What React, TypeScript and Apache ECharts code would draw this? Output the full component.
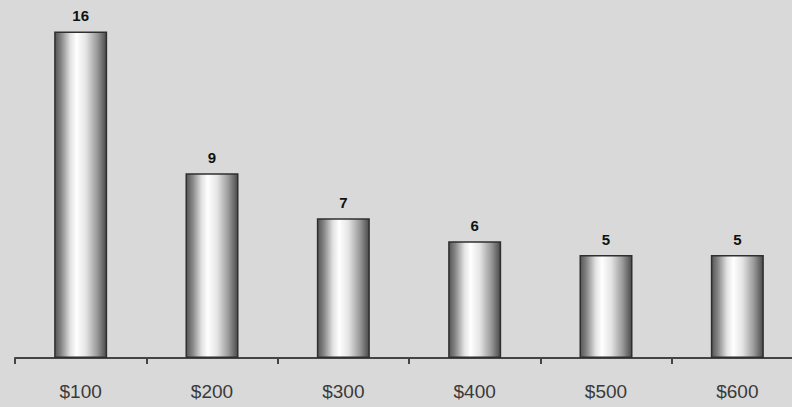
import React, { useEffect, useRef } from "react";
import * as echarts from "echarts";

const categories = ["$100", "$200", "$300", "$400", "$500", "$600"];
const values = [16, 9.05, 6.85, 5.72, 5.04, 5.04];

export default function App() {
  const ref = useRef<HTMLDivElement>(null);
  useEffect(() => {
    document.body.style.margin = "0";
    const chart = echarts.init(ref.current!, null, { renderer: "svg" });
    const barGradient = new echarts.graphic.LinearGradient(0, 0, 1, 0, [
      { offset: 0, color: "#555555" },
      { offset: 0.12, color: "#858585" },
      { offset: 0.3, color: "#e2e2e2" },
      { offset: 0.42, color: "#ffffff" },
      { offset: 0.6, color: "#e4e4e4" },
      { offset: 0.82, color: "#9a9a9a" },
      { offset: 1, color: "#4a4a4a" },
    ]);
    chart.setOption({
      animation: false,
      backgroundColor: "#d9d9d9",
      grid: { left: 15, top: 11, bottom: 49, right: 0, containLabel: false },
      xAxis: {
        type: "category",
        data: categories,
        axisLine: { lineStyle: { color: "#444", width: 2 } },
        axisTick: { show: true, length: 6, lineStyle: { color: "#444", width: 2 } },
        axisLabel: {
          margin: 24,
          color: "#3a3a3a",
          fontSize: 19,
          fontFamily: "Liberation Sans, Arial, sans-serif",
        },
      },
      yAxis: {
        type: "value",
        min: 0,
        max: 17,
        show: false,
        splitLine: { show: false },
      },
      series: [
        {
          type: "bar",
          data: values,
          barWidth: 53,
          itemStyle: {
            color: barGradient,
            borderColor: "#2f2f2f",
            borderWidth: 1.5,
          },
          label: {
            show: true,
            position: "top",
            distance: 8,
            color: "#111",
            fontWeight: "bold",
            fontSize: 15,
            fontFamily: "Liberation Sans, Arial, sans-serif",
            formatter: (p: any) => String(Math.round(p.value)),
          },
        },
      ],
    });
    return () => chart.dispose();
  }, []);
  return (
    <div style={{ width: 792, height: 407, overflow: "hidden" }}>
      <div ref={ref} style={{ width: 803, height: 407 }} />
    </div>
  );
}
